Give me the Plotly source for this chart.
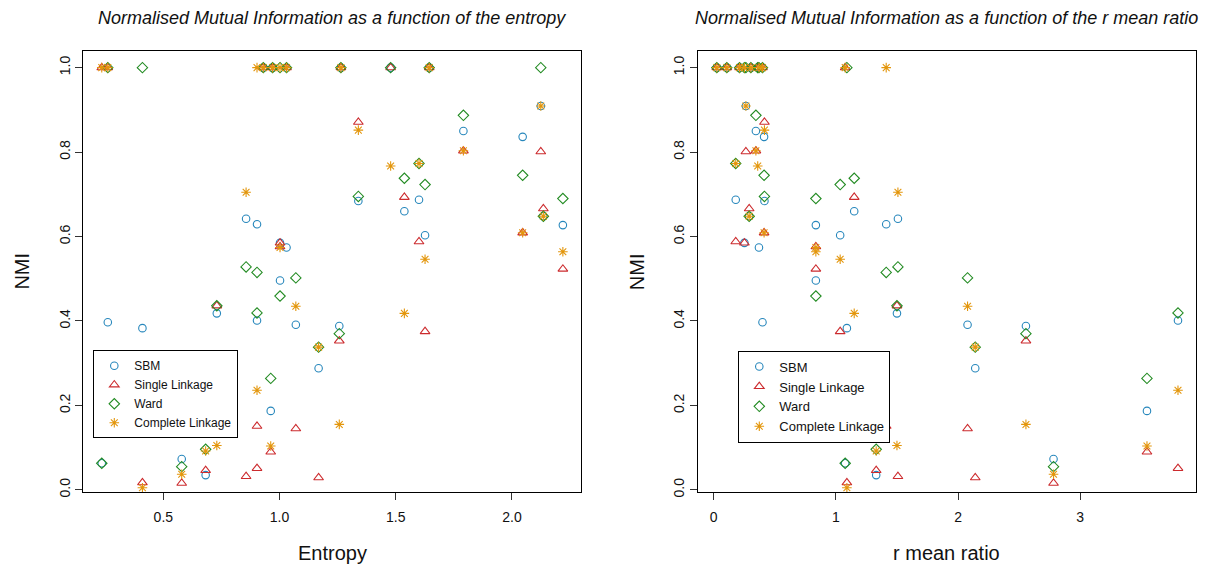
import plotly.graph_objects as go

# ---- data: one entry per dataset ----
entropy = [0.235, 0.261, 0.410, 0.579, 0.682, 0.730, 0.856, 0.903, 0.903, 0.930,
           0.962, 0.970, 1.002, 1.002, 1.030, 1.070, 1.168, 1.257, 1.264, 1.339,
           1.478, 1.537, 1.600, 1.626, 1.644, 1.791, 2.046, 2.124, 2.135, 2.219]
r_mean_ratio = [1.076, 0.399, 1.090, 2.782, 1.330, 1.500, 1.508, 1.412, 3.801, 0.025,
                3.547, 0.107, 0.251, 0.836, 0.370, 2.078, 2.141, 2.556, 0.211, 0.415,
                0.360, 1.150, 0.180, 1.035, 0.304, 0.345, 0.412, 0.263, 0.290, 0.836]
nmi_sbm = [0.063, 0.397, 0.383, 0.073, 0.035, 0.418, 0.642, 0.629, 0.401, 1.000,
           0.187, 1.000, 0.585, 0.496, 0.574, 0.391, 0.288, 0.388, 1.000, 0.684,
           1.000, 0.660, 0.687, 0.603, 1.000, 0.850, 0.836, 0.909, 0.648, 0.627]
nmi_single = [1.000, 1.000, 0.017, 0.016, 0.046, 0.436, 0.032, 0.151, 0.051, 1.000,
              0.090, 1.000, 0.585, 0.576, 1.000, 0.145, 0.029, 0.353, 1.000, 0.871,
              1.000, 0.693, 0.588, 0.375, 1.000, 0.803, 0.609, 0.801, 0.666, 0.523]
nmi_ward = [0.063, 1.000, 1.000, 0.055, 0.096, 0.436, 0.528, 0.515, 0.419, 1.000,
            0.264, 1.000, 1.000, 0.459, 1.000, 0.502, 0.338, 0.370, 1.000, 0.695,
            1.000, 0.738, 0.773, 0.723, 1.000, 0.887, 0.745, 1.000, 0.648, 0.690]
nmi_complete = [1.000, 1.000, 0.005, 0.037, 0.092, 0.105, 0.705, 1.000, 0.236, 1.000,
                0.104, 1.000, 1.000, 0.574, 1.000, 0.435, 0.338, 0.155, 1.000, 0.852,
                0.767, 0.418, 0.773, 0.546, 1.000, 0.803, 0.609, 0.909, 0.648, 0.564]

series_names = ["SBM", "Single Linkage", "Ward", "Complete Linkage"]
series_values = [nmi_sbm, nmi_single, nmi_ward, nmi_complete]
symbols = ["circle-open", "triangle-up-open", "diamond-open", "asterisk-open"]
sizes = [7.5, 8.5, 8, 8]
colors = ["#2787BC", "#CC2B2E", "#228B22", "#E3960C"]

x_tick_left = [0.5, 1.0, 1.5, 2.0]
x_tick_right = [0, 1, 2, 3]
y_ticks = [0.0, 0.2, 0.4, 0.6, 0.8, 1.0]

W, H = 1207, 571
FONT = "Liberation Sans, Arial, Helvetica, sans-serif"

fig = go.Figure()
for xvals, xa, ya, leg in [(entropy, "x", "y", "legend"), (r_mean_ratio, "x2", "y2", "legend2")]:
    for name, vals, sym, sz, col in zip(series_names, series_values, symbols, sizes, colors):
        fig.add_trace(go.Scatter(
            x=xvals, y=vals, mode="markers", name=name,
            xaxis=xa, yaxis=ya, legend=leg,
            marker=dict(symbol=sym, size=sz, color=col,
                        line=dict(color=col, width=1.1)),
        ))

def px_x(p):
    return p / W

def px_y(p):
    return 1 - p / H

axis_common = dict(showline=True, mirror=True, linecolor="black", linewidth=1,
                   ticks="outside", ticklen=7, tickcolor="#333", tickwidth=1,
                   showgrid=False, zeroline=False,
                   tickfont=dict(family=FONT, size=14, color="#111"))

ydom = [px_y(497.2), px_y(51.7)]
fig.update_layout(
    width=W, height=H,
    margin=dict(l=0, r=0, t=0, b=0),
    paper_bgcolor="white", plot_bgcolor="white",
    font=dict(family=FONT, color="#111"),
    xaxis=dict(domain=[px_x(83.4), px_x(581.0)], range=[0.156, 2.297],
               tickvals=x_tick_left, ticktext=["0.5", "1.0", "1.5", "2.0"],
               ticklabelstandoff=5, anchor="y", **axis_common),
    yaxis=dict(domain=ydom, range=[-0.005, 1.039], tickvals=y_ticks,
               ticktext=["0.0", "0.2", "0.4", "0.6", "0.8", "1.0"], tickangle=-90,
               anchor="x", **axis_common),
    xaxis2=dict(domain=[px_x(698.0), px_x(1195.7)], range=[-0.129, 3.946],
                tickvals=x_tick_right, ticktext=["0", "1", "2", "3"],
                ticklabelstandoff=5, anchor="y2", **axis_common),
    yaxis2=dict(domain=ydom, range=[-0.005, 1.039], tickvals=y_ticks,
                ticktext=["0.0", "0.2", "0.4", "0.6", "0.8", "1.0"], tickangle=-90,
                anchor="x2", **axis_common),
    legend=dict(x=px_x(93.3), y=px_y(354), xanchor="left", yanchor="top",
                bgcolor="white", bordercolor="black", borderwidth=1,
                font=dict(family=FONT, size=12, color="#111"), itemwidth=30),
    legend2=dict(x=px_x(738.3), y=px_y(354.3), xanchor="left", yanchor="top",
                 bgcolor="white", bordercolor="black", borderwidth=1,
                 font=dict(family=FONT, size=13, color="#111"), itemwidth=30),
    showlegend=True,
)

ann = []
title_font = dict(family=FONT, size=18, color="#111")
ann.append(dict(text="<i>Normalised Mutual Information as a function of the entropy</i>",
                x=px_x(332.2), y=px_y(18), xref="paper", yref="paper",
                showarrow=False, xanchor="center", yanchor="middle", font=title_font))
ann.append(dict(text="<i>Normalised Mutual Information as a function of the r mean ratio</i>",
                x=px_x(946.9), y=px_y(18), xref="paper", yref="paper",
                showarrow=False, xanchor="center", yanchor="middle", font=title_font))
lab_font = dict(family=FONT, size=20, color="#111")
ann.append(dict(text="Entropy", x=px_x(332.2), y=px_y(559), xref="paper", yref="paper",
                showarrow=False, xanchor="center", yanchor="middle", font=lab_font))
ann.append(dict(text="r mean ratio", x=px_x(946.9), y=px_y(559), xref="paper", yref="paper",
                showarrow=False, xanchor="center", yanchor="middle", font=lab_font))
ann.append(dict(text="NMI", x=px_x(22), y=px_y(274.5), xref="paper", yref="paper",
                showarrow=False, xanchor="center", yanchor="middle", textangle=-90, font=lab_font))
ann.append(dict(text="NMI", x=px_x(636.6), y=px_y(274.5), xref="paper", yref="paper",
                showarrow=False, xanchor="center", yanchor="middle", textangle=-90, font=lab_font))
fig.update_layout(annotations=ann)

fig.write_html("out.html")
